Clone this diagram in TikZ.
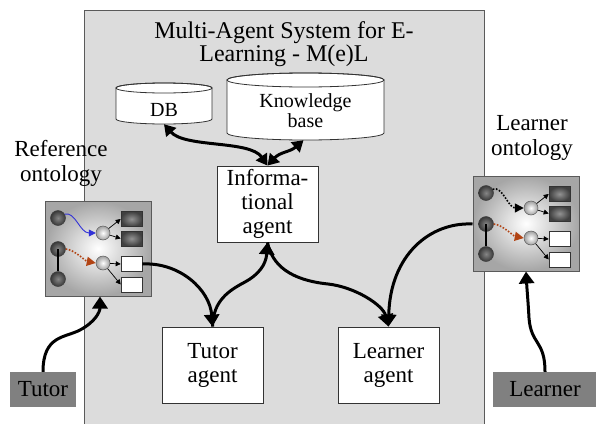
\documentclass[tikz,border=0pt]{standalone}
\usepackage{fontspec}
\setmainfont{Liberation Serif}
\usetikzlibrary{arrows.meta,calc}
\definecolor{sysbg}{RGB}{220,220,220}
\definecolor{lblgray}{RGB}{128,128,128}
\definecolor{rustc}{RGB}{178,68,20}
\definecolor{bluec}{RGB}{50,50,215}
\definecolor{framec}{RGB}{90,90,90}
\tikzset{
 conn/.style={line width=3pt, -{Triangle[length=12pt,width=15pt]}},
 conn2/.style={line width=3pt, {Triangle[length=11pt,width=13pt]}-{Triangle[length=11pt,width=13pt]}},
 agent/.style={draw=black!80, fill=white, line width=0.8pt, minimum width=101pt, minimum height=76pt, align=center, font=\fontsize{23}{24}\selectfont, inner sep=0pt},
 role/.style={fill=lblgray, minimum height=35pt, inner sep=0pt, font=\fontsize{23}{24}\selectfont},
 lbl/.style={align=center, font=\fontsize{23}{25}\selectfont, inner sep=0pt},
 cyltext/.style={inner sep=0pt, font=\fontsize{20}{20}\selectfont},
 cylline/.style={draw=black!80, line width=0.8pt},
 ontobox/.style={draw=framec, line width=1pt, inner color=white, outer color=gray!70, minimum width=106pt, minimum height=95pt, inner sep=0pt},
 darkball/.style={circle, draw=black!75, line width=0.5pt, inner color=gray!95, outer color=black!78, minimum size=15pt, inner sep=0pt},
 lightball/.style={circle, draw=black!65, line width=0.5pt, inner color=white, outer color=gray!75, minimum size=14pt, inner sep=0pt},
 darksq/.style={draw=black!80, line width=0.6pt, inner color=gray!85, outer color=black!75, minimum width=21pt, minimum height=15pt, inner sep=0pt},
 whitesq/.style={draw=black!80, line width=0.6pt, fill=white, minimum width=21pt, minimum height=15pt, inner sep=0pt},
 smallarr/.style={line width=0.7pt, -{Triangle[length=5pt,width=5pt]}},
 bluearr/.style={draw=bluec, line width=0.9pt, -{Triangle[length=7pt,width=7pt,fill=bluec]}},
 dotblack/.style={draw=black, line width=1.6pt, dash pattern=on 1.6pt off 1.6pt, -{Triangle[length=9pt,width=9pt]}},
 dotrust/.style={draw=rustc, line width=1.6pt, dash pattern=on 1.6pt off 1.6pt, -{Triangle[length=9pt,width=9pt,fill=rustc]}},
 onto/.pic={
  \node[ontobox] (-box) at (53,47.5) {};
  \node[darkball] (-c1) at (13,17) {};
  \node[darkball] (-c2) at (13,48) {};
  \node[darkball] (-c3) at (13,78) {};
  \draw[line width=1.2pt] (-c2.center) -- (-c3.north);
  \node[lightball] (-m1) at (58,32) {};
  \node[lightball] (-m2) at (58,62) {};
  \node[darksq] (-d1) at (86.5,18) {};
  \node[darksq] (-d2) at (86.5,37.5) {};
  \node[whitesq] (-w1) at (86.5,63) {};
  \node[whitesq] (-w2) at (86.5,83.5) {};
  \draw[smallarr] (-m1) -- (-d1.west);
  \draw[smallarr] (-m1) -- (-d2.west);
  \draw[smallarr] (-m2) -- (-w1.west);
  \draw[smallarr] (-m2) -- (-w2.west);
  \draw[#1] (-c1.30) .. controls (30,10) and (35,32) .. (-m1.west);
  \draw[dotrust] (-c2.east) .. controls (30,49) and (40,60) .. (-m2.west);
 }
}
\begin{document}
\begin{tikzpicture}[x=1pt,y=-1pt]
\useasboundingbox (0,0) rectangle (596,423);
% system frame
\fill[sysbg] (84,10) rectangle (484,430);
\draw[framec, line width=1pt] (84,430) -- (84,10) -- (484,10) -- (484,430);
\node[align=center, font=\fontsize{24}{21}\selectfont, inner sep=0pt] (title) at (284,44) {Multi-Agent System for E-\\Learning - M(e)L};
% cylinders
\draw[cylline, fill=white] (116,88) -- (116,119) arc[start angle=180,end angle=0,x radius=48,y radius=5] -- (212,88) arc[start angle=0,end angle=-180,x radius=48,y radius=5] -- cycle;
\draw[cylline] (164,88) ellipse[x radius=48,y radius=5];
\draw[cylline, fill=white] (227,80) -- (227,133) arc[start angle=180,end angle=0,x radius=78.5,y radius=7] -- (384,80) arc[start angle=0,end angle=-180,x radius=78.5,y radius=7] -- cycle;
\draw[cylline] (305.5,80) ellipse[x radius=78.5,y radius=7];
\node[cyltext, minimum width=96pt, minimum height=41pt] (db) at (164,103.5) {\raisebox{-6pt}[\height][\depth]{DB}};
\node[cyltext, minimum width=157pt, minimum height=67pt] (kb) at (305.5,106.5) {\raisebox{-7pt}[\height][\depth]{\begin{tabular}{@{}c@{}}Knowledge\\base\end{tabular}}};
% agents
\node[agent] (info) at (267.5,204) {Informa-\\tional\\agent};
\node[agent] (tutor) at (212.5,365) {Tutor\\agent};
\node[agent] (learner) at (388.5,365) {Learner\\agent};
% roles
\node[role, minimum width=66pt] (tl) at (43,389.5) {Tutor};
\node[role, minimum width=104pt] (ll) at (545,389.5) {Learner};
% ontology labels
\node[lbl] (refl) at (61,163) {Reference\\ontology};
\node[lbl] (lrnl) at (532,138) {Learner\\ontology};
% ontologies
\pic (L) at (45,201) {onto=bluearr};
\pic (R) at (473,176) {onto=dotblack};
% connectors
\draw[conn] (tl.north) .. controls (43,335) and (65,338) .. (80,330) .. controls (95,322) and (100,312) .. ([xshift=2pt]L-box.south);
\draw[conn] (ll.north) .. controls (545,340) and (531,345) .. (529,318) .. controls (528,300) and (527,290) .. (R-box.south);
\draw[conn] (L-w1.east) .. controls (180,262) and (210,290) .. (tutor.north);
\draw[conn] (tutor.north) .. controls (213,300) and (230,290) .. (245,282) .. controls (258,275) and (266,265) .. (info.south);
\draw[conn] (info.south) .. controls (272,265) and (290,280) .. (328,284) .. controls (355,287) and (383,305) .. (learner.north);
\draw[conn] (R-box.west |- R-c2) .. controls (430,222) and (390,255) .. (learner.north);
\draw[conn2] (db.south) .. controls (185,148) and (250,140) .. (info.north);
\draw[conn2] ([xshift=-2pt]kb.south) .. controls (290,152) and (280,152) .. (info.north);
\end{tikzpicture}
\end{document}
